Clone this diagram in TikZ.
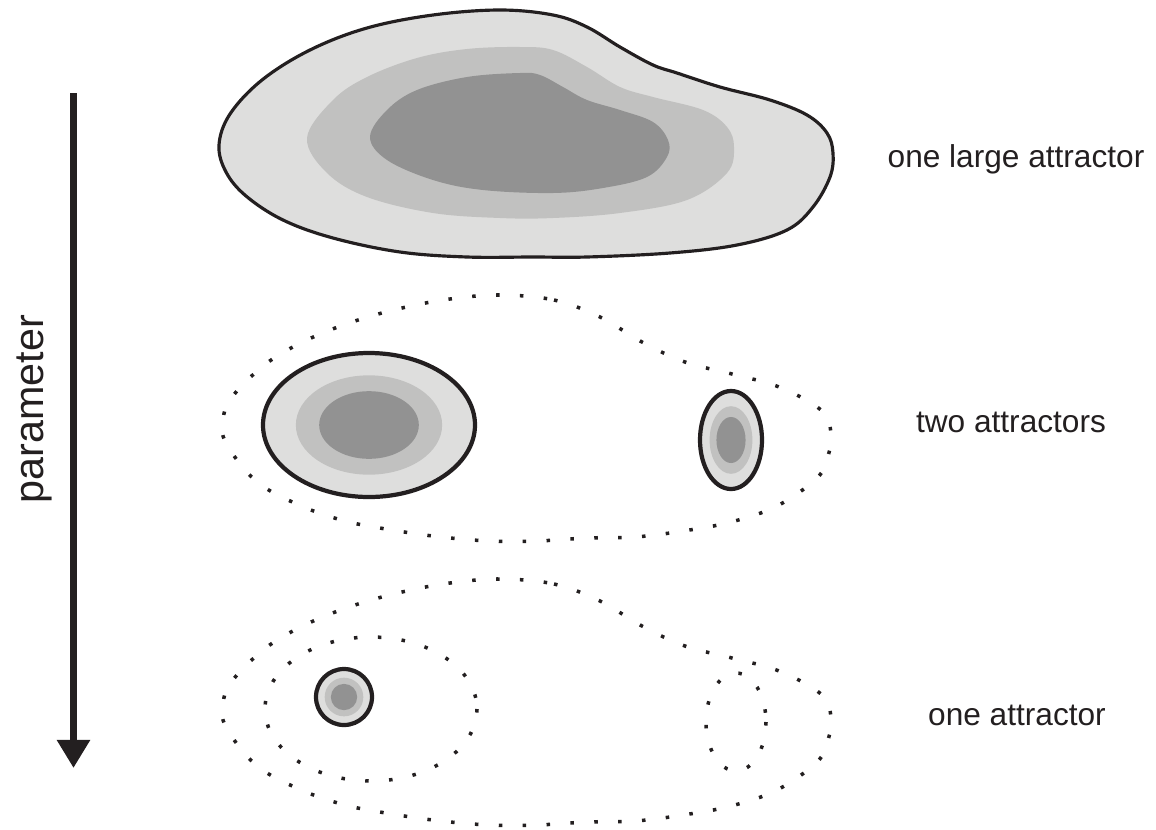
\documentclass[tikz,border=0pt]{standalone}
\usepackage{fontspec}
\setmainfont{Liberation Sans}
\usetikzlibrary{arrows.meta}
\definecolor{ink}{HTML}{231F20}
\definecolor{shA}{HTML}{DEDEDD}
\definecolor{shB}{HTML}{C1C1C0}
\definecolor{shC}{HTML}{929292}
\newcommand\attractor[4]{%
  \filldraw[rim,fill=shA] (#1,#2) ellipse [x radius=#3, y radius=#4];
  \fill[shB] (#1,#2) ellipse [x radius=0.69*#3, y radius=0.69*#4];
  \fill[shC] (#1,#2) ellipse [x radius=0.47*#3, y radius=0.47*#4];}

\begin{document}
\begin{tikzpicture}[x=0.02cm,y=-0.02cm,
  every node/.style={font=\fontsize{18}{22}\selectfont,text=ink},
  basin/.style={draw=ink,line width=2pt,dash pattern=on 2pt off 11.6pt},
  rim/.style={draw=ink,line width=2.4pt}]
\useasboundingbox (0,0) rectangle (1156,829);

\filldraw[draw=ink,line width=1.8pt,fill=shA] plot[smooth cycle,tension=0.6] coordinates {
  (219,145) (230,114) (262,80) (310,50) (367,28) (433,15) (500,10) (553,15) (587,27)
  (620,47) (653,65) (677,73) (720,87) (770,100) (807,115) (827,133) (833,153) (830,177)
  (813,207) (787,230) (737,245) (670,253) (587,257) (533,257) (467,257) (400,252)
  (333,238) (283,220) (246,196) (226,172)};
\fill[shB] plot[smooth cycle,tension=0.6] coordinates {
  (307,138) (333,100) (367,77) (417,58) (467,49) (520,47) (553,50) (587,67) (620,87)
  (653,97) (703,110) (727,127) (734,147) (727,173) (687,200) (620,213) (553,218)
  (500,218) (433,213) (367,197) (327,173)};
\fill[shC] plot[smooth cycle,tension=0.6] coordinates {
  (370,137) (387,110) (417,90) (467,77) (520,73) (540,75) (563,87) (587,100) (620,110)
  (653,122) (668,140) (667,157) (647,177) (603,188) (553,193) (483,190) (433,180) (387,160)};

\foreach \dy in {0,284}
  \draw[basin,shift={(0,\dy)}] plot[smooth cycle,tension=0.6] coordinates {
    (500,295) (554,300) (600,317) (642,342) (685,362) (732,374) (779,387) (821,410)
    (831,433) (828,456) (817,478) (777,506) (731,522) (683,531) (635,537) (587,538)
    (537,541) (490,541) (441,537) (392,530) (345,521) (299,505) (256,481) (226,443)
    (223,420) (232,397) (267,363) (309,339) (355,321) (402,308) (450,299)};
\draw[basin] (371,709) ellipse [x radius=106, y radius=72];
\draw[basin] (736,722) ellipse [x radius=30, y radius=49];

\attractor{369}{425}{106}{72}
\attractor{731}{440}{31}{49}
\attractor{344}{697}{28}{28}

\coordinate (ptop) at (73.5,93);
\coordinate (pbot) at (73.5,768);
\draw[ink,line width=4pt,-{Triangle[width=18pt,length=16pt]}] (ptop) -- (pbot);
\node[anchor=base,rotate=90,font=\fontsize{23.5}{28}\selectfont] (par) at (43,409) {parameter};

\node[anchor=base] (large) at (1016,167) {one large attractor};
\node[anchor=base] (two) at (1011,432) {two attractors};
\node[anchor=base] (one) at (1017,725) {one attractor};
\end{tikzpicture}
\end{document}
